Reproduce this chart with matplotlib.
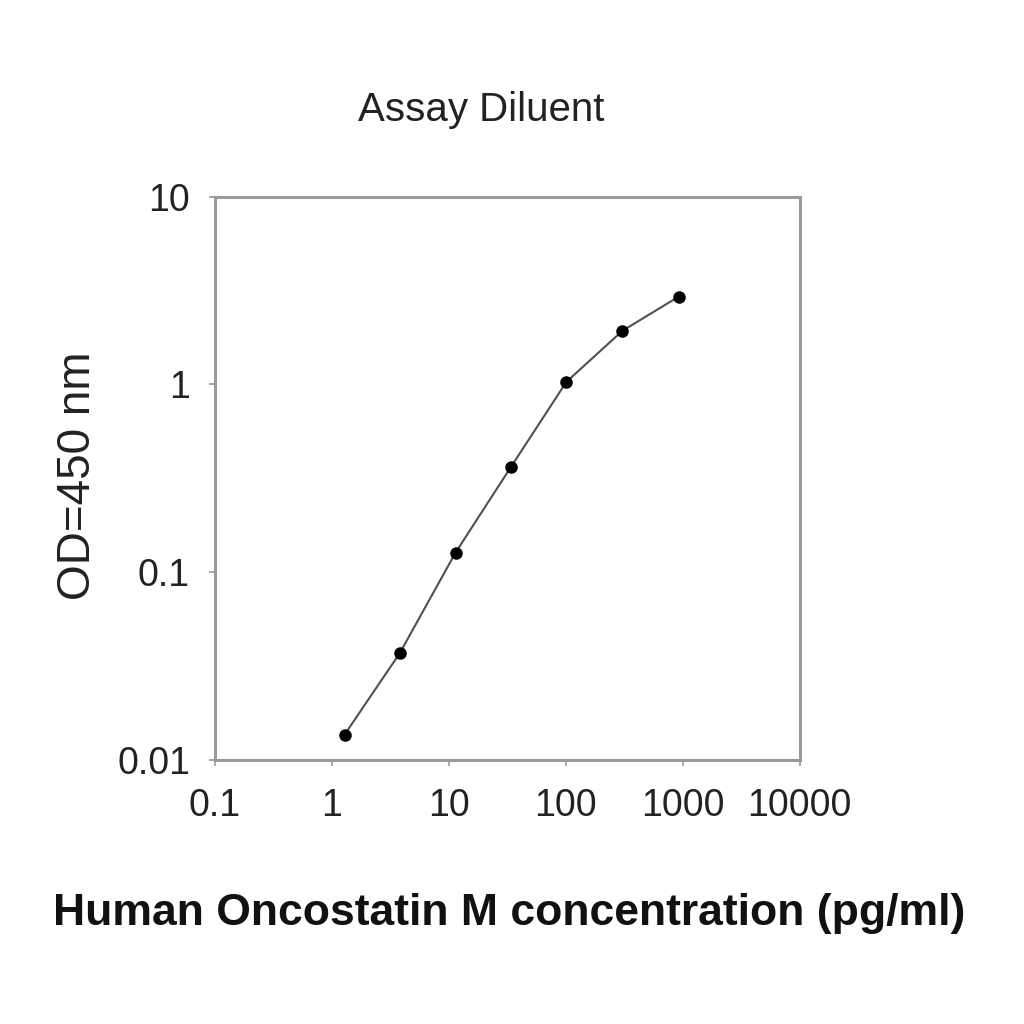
import matplotlib.pyplot as plt
import matplotlib.ticker as mticker

plt.rcParams['font.family'] = ['Liberation Sans', 'DejaVu Sans']

# standard curve, 3-fold dilutions
conc = [1.28, 3.8, 11.4, 34.0, 101.0, 305.0, 920.0]
od = [0.0136, 0.037, 0.127, 0.364, 1.03, 1.93, 2.93]

x_ticks = [0.1, 1, 10, 100, 1000, 10000]
x_labels = ['0.1', '1', '10', '100', '1000', '10000']
y_ticks = [0.01, 0.1, 1, 10]
y_labels = ['0.01', '0.1', '1', '10']

fig = plt.figure(figsize=(10.24, 10.24), dpi=100)
ax = fig.add_axes([0.21, 0.258, 0.571, 0.55])

ax.plot(conc, od, color='#505050', lw=1.5, marker='o', ms=8,
        mfc='black', mec='black')

ax.set_xscale('log')
ax.set_yscale('log')
ax.set_xlim(0.1, 10000)
ax.set_ylim(0.01, 10)

ax.xaxis.set_major_locator(mticker.FixedLocator(x_ticks))
ax.yaxis.set_major_locator(mticker.FixedLocator(y_ticks))
ax.xaxis.set_major_formatter(mticker.FixedFormatter(x_labels))
ax.yaxis.set_major_formatter(mticker.FixedFormatter(y_labels))
ax.xaxis.set_minor_locator(mticker.NullLocator())
ax.yaxis.set_minor_locator(mticker.NullLocator())

for s in ax.spines.values():
    s.set_color('#9a9a9a')
    s.set_linewidth(2.2)

ax.tick_params(axis='both', direction='out', length=4, width=1.2,
               color='#9a9a9a', labelsize=27, labelcolor='#222222')
ax.tick_params(axis='x', pad=16)
ax.tick_params(axis='y', pad=14)

fig.text(0.47, 0.893, 'Assay Diluent', ha='center', va='center',
         fontsize=29, color='#222222')
fig.text(0.076, 0.535, 'OD=450 nm', ha='center', va='center',
         rotation=90, fontsize=33, color='#222222')
fig.text(0.497, 0.108, 'Human Oncostatin M concentration (pg/ml)',
         ha='center', va='center', fontsize=32, fontweight='bold',
         color='#111111')

fig.savefig('out.png', dpi=100)
